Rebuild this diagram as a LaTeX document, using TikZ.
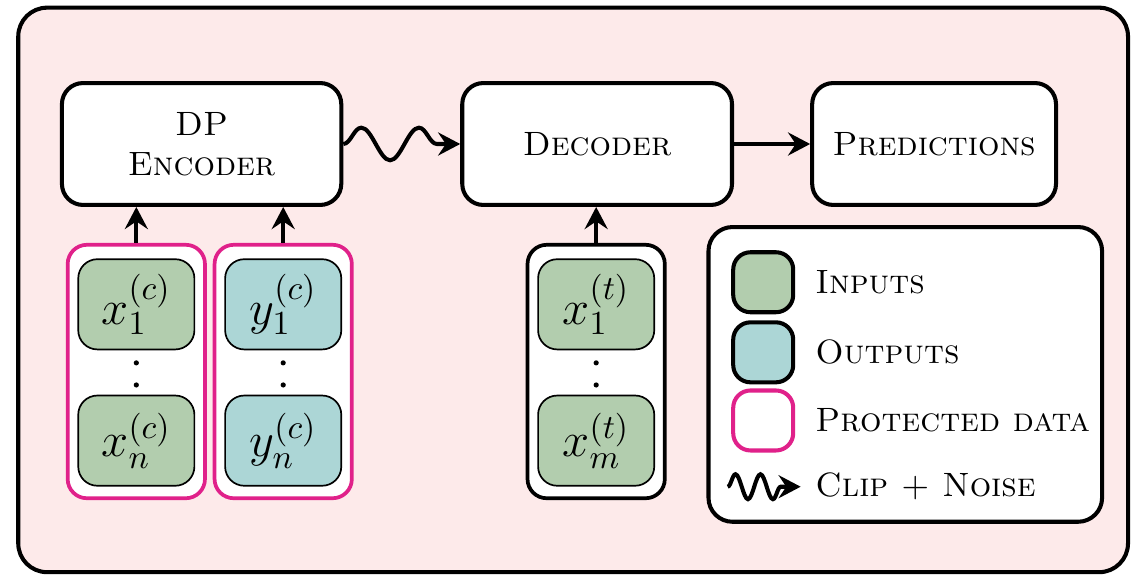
\documentclass[tikz,border=0pt]{standalone}
\usetikzlibrary{arrows.meta,decorations.pathmorphing}
\definecolor{bgpink}{RGB}{253,234,234}
\definecolor{ingreen}{RGB}{178,205,174}
\definecolor{outblue}{RGB}{172,214,214}
\definecolor{protpink}{RGB}{224,33,138}
\begin{document}
\begin{tikzpicture}[
		block/.style={draw,line width=1.2pt,rounded corners=0.22cm,fill=white,align=center,minimum height=1.27cm},
		setbox/.style={draw,line width=1.1pt,rounded corners=0.2cm,fill=white,minimum width=1.43cm,minimum height=2.64cm},
		point/.style={draw,line width=0.5pt,rounded corners=0.2cm,minimum width=1.21cm,minimum height=0.94cm,inner sep=1pt,font=\Large},
		legbox/.style={draw,line width=1.2pt,rounded corners=0.18cm,minimum size=0.625cm},
		legtext/.style={anchor=west},
		link/.style={-{Stealth[length=2.3mm,width=2.4mm,inset=0.8mm]},line width=1.2pt},
		noisy/.style={link,decorate,decoration={snake,amplitude=0.17cm,segment length=0.6cm,post length=0.14cm}}
	]
	\useasboundingbox (0,0) rectangle (11.875,-6.01);
	\draw[fill=bgpink,line width=1.2pt,rounded corners=0.3cm] (0.19,-0.08) rectangle (11.75,-5.96);

	\node[block,minimum width=2.91cm] (enc) at (2.10,-1.5) {\textsc{DP}\\\textsc{Encoder}};
	\node[block,minimum width=2.81cm] (dec) at (6.22,-1.5) {\textsc{Decoder}};
	\node[block,minimum width=2.54cm] (pred) at (9.73,-1.5) {\textsc{Predictions}};

	\node[setbox,draw=protpink] (ctxx) at (1.42,-3.87) {};
	\node[setbox,draw=protpink] (ctxy) at (2.95,-3.87) {};
	\node[setbox] (tgtx) at (6.21,-3.87) {};

	\node[point,fill=ingreen] (xc1) at (1.42,-3.17) {$x_1^{(c)}$};
	\node[point,fill=ingreen] (xcn) at (1.42,-4.59) {$x_n^{(c)}$};
	\node[point,fill=outblue] (yc1) at (2.95,-3.17) {$y_1^{(c)}$};
	\node[point,fill=outblue] (ycn) at (2.95,-4.59) {$y_n^{(c)}$};
	\node[point,fill=ingreen] (xt1) at (6.21,-3.17) {$x_1^{(t)}$};
	\node[point,fill=ingreen] (xtm) at (6.21,-4.59) {$x_m^{(t)}$};
	\foreach \xpos in {1.42,2.95,6.21} {
		\fill (\xpos,-3.78) circle (0.027cm);
		\fill (\xpos,-4.01) circle (0.027cm);
	}

	\draw[link] (ctxx.north) -- (ctxx.north |- enc.south);
	\draw[link] (ctxy.north) -- (ctxy.north |- enc.south);
	\draw[link] (tgtx.north) -- (tgtx.north |- dec.south);
	\draw[noisy] (enc) -- (dec);
	\draw[link] (dec) -- (pred);

	\node[draw,fill=white,line width=1.2pt,rounded corners=0.25cm,minimum width=4.1cm,minimum height=3.07cm] (legend) at (9.43,-3.90) {};
	\node[legbox,fill=ingreen] (leginp) at (7.95,-2.94) {};
	\node[legtext] (leginptext) at (8.37,-2.94) {\textsc{Inputs}};
	\node[legbox,fill=outblue] (legout) at (7.95,-3.67) {};
	\node[legtext] (legouttext) at (8.37,-3.67) {\textsc{Outputs}};
	\node[legbox,draw=protpink,fill=white] (legprot) at (7.95,-4.38) {};
	\node[legtext] (legprottext) at (8.37,-4.38) {\textsc{Protected data}};
	\coordinate (legnoisea) at (7.58,-5.07);
	\coordinate (legnoiseb) at (8.34,-5.07);
	\draw[link,decorate,decoration={snake,amplitude=0.13cm,segment length=0.26cm,post length=0.1cm}] (legnoisea) -- (legnoiseb);
	\node[legtext] (legnoisetext) at (8.37,-5.07) {\textsc{Clip + Noise}};
\end{tikzpicture}
\end{document}
